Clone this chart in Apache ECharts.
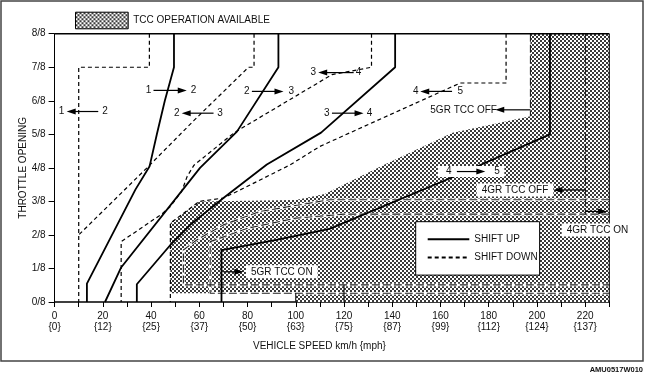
<!DOCTYPE html>
<html><head><meta charset="utf-8">
<script src="https://cdn.jsdelivr.net/npm/echarts@6/dist/echarts.min.js"></script>
<style>html,body{margin:0;padding:0;background:#fff}#c{width:645px;height:381px}</style>
</head><body><div id="c"></div>
<script>
// ---- axis tick labels ----
const kmhLabels = [0,20,40,60,80,100,120,140,160,180,200,220];
const mphLabels = [0,12,25,37,50,63,75,87,99,112,124,137];

// ---- shift lines [km/h, throttle in eighths] ----
const up12 = [[49.5,8],[49.5,7],[45.7,6],[42.4,5],[39.4,4.05],[33.5,3.35],[13.4,0.55],[13.4,0]];
const up23 = [[92.8,8],[92.8,7],[75.6,5.08],[60.3,4.0],[27.5,1.02],[20.9,0]];
const up34 = [[141.2,8],[141.2,7],[110.5,5.05],[88,4.1],[70,3.1],[56.2,2.3],[48,1.7],[34.1,0.53],[34.1,0]];
const up45 = [[205.4,8],[205.4,5],[164,3.69],[114,2.18],[92,1.85],[69.2,1.55],[69.2,0]];

const dn12 = [[39.3,8],[39.3,7],[10,7],[10,0]];
const dn23 = [[82.7,8],[82.7,7],[80.4,7],[57.6,5.4],[39,4.05],[10,2]];
const dn34 = [[131.4,8],[131.4,7],[115,6.78],[74.5,5.05],[57.8,4.08],[55,3.75],[52.7,3.3],[47.9,2.84],[44.4,2.62],[27.6,1.8],[27.6,0]];
const dn45 = [[187.2,8],[187.2,6.53],[168.2,6.53],[110,4.64],[97.7,4.09],[78.3,3.39],[70,3.1],[60,3.0],[48,2.35],[48,0]];

// ---- torque converter clutch lines ----
const tcc5On = [[230,2.62],[120,2.62],[100,2.5],[80,2.2],[64.5,1.8],[64.5,0.26],[230,0.26]];
const tcc4On = [[230,3.05],[114,3.05],[101.8,2.9],[85.2,2.7],[70,2.3],[58.9,1.85],[53.4,1.55],[53.4,0.51],[230,0.51]];
const tcc4Off = [[220.1,8],[220.1,2.62]];
const tcc5Off = [[197.3,8],[197.3,5.54]];
const tccStub5 = [[100,0],[100,0.26]];
const tccStub4 = [[120,0],[120,0.51]];
const tccArea = [[48,0.26],[48,2.35],[60,3.0],[100,3.04],[112,3.22],[136,4.07],[165,5.05],[197.3,5.54],[197.3,8],[230,8],[230,0],[100,0],[100,0.26]];

// ---- plot frame (top and right edges) ----
const frameTop = [[0,8],[230,8]];
const frameRight = [[230,0],[230,8]];

// ---- annotation arrows [from, to] ----
const gearArrows = [
  [[41.0,6.31],[54.8,6.31]],
  [[18.1,5.68],[5.0,5.68]],
  [[65.9,5.63],[52.7,5.63]],
  [[81.8,6.28],[94.9,6.28]],
  [[124.0,6.84],[109.3,6.84]],
  [[115.0,5.63],[128.1,5.63]],
  [[164.8,6.28],[151.6,6.28]]
];
const boxedArrows = [ [[166.8,3.89],[178.6,3.89]] ];
const tccArrows = [
  [[197.3,5.73],[182.7,5.73]],
  [[220.1,3.34],[206.8,3.34]],
  [[220.1,2.70],[229.1,2.70]],
  [[70.0,0.90],[78.3,0.90]]
];
const gearLabels = [
  [38.9,6.31,'1'],[57.6,6.31,'2'],
  [2.9,5.68,'1'],[20.9,5.68,'2'],
  [50.7,5.63,'2'],[68.6,5.63,'3'],
  [79.7,6.28,'2'],[98.1,6.28,'3'],
  [107.3,6.84,'3'],[126.0,6.84,'4'],
  [112.9,5.63,'3'],[130.6,5.63,'4'],
  [149.8,6.28,'4'],[168.2,6.28,'5'],
  [169.6,5.73,'5GR TCC OFF']
];
const boxedLabels = [
  [163.4,3.89,'4'],[183.4,3.89,'5'],
  [190.9,3.34,'4GR TCC OFF'],
  [225.1,2.15,'4GR TCC ON'],
  [94.2,0.90,'5GR TCC ON']
];

const FONT = "'Liberation Sans', Arial, Helvetica, sans-serif";

// dotted fill pattern for the TCC area
const pat = document.createElement('canvas');
pat.width = 4; pat.height = 4;
const g = pat.getContext('2d');
g.fillStyle = '#ffffff'; g.fillRect(0,0,4,4);
g.fillStyle = '#3a3a3a'; g.fillRect(0,0,2,2); g.fillRect(2,2,2,2);
const hatch = { image: pat, repeat: 'repeat' };

function lineS(name, data, kind, z) {
  const st = {
    up:   { color:'#000', width:1.8, type:'solid' },
    down: { color:'#000', width:1.2, type:[4,3] },
    tcc:  { color:'#222', width:1.1, type:[8,3] },
    halo: { color:'#fff', width:2.5, type:'solid' },
    thin: { color:'#000', width:1, type:'solid' },
    frame:{ color:'#000', width:1.5, type:'solid' }
  }[kind];
  return { type:'line', name, data, symbol:'none', clip:false, silent:true, z: z || 3,
    lineStyle:{ color:st.color, width:st.width, type:st.type }, itemStyle:{ color:st.color },
    animation:false };
}

function arrowItem(a, api) {
  const s = api.coord(a[0]), e = api.coord(a[1]);
  const dir = Math.sign(e[0]-s[0]) || 1;
  const L = 9, W = 3;
  return [
    { type:'line', shape:{ x1:s[0], y1:s[1], x2:e[0]-dir*L*0.7, y2:e[1] }, style:{ stroke:'#000', lineWidth:1.2 } },
    { type:'polygon', shape:{ points:[[e[0],e[1]],[e[0]-dir*L,e[1]-W],[e[0]-dir*L,e[1]+W]] }, style:{ fill:'#000' } }
  ];
}
function arrowSeries(name, list, boxed) {
  return { type:'custom', name, silent:true, z:6, animation:false,
    data: list.map(a => [a[0][0], a[0][1]]),
    encode:{ x:0, y:1 },
    renderItem: (p, api) => {
      const a = list[p.dataIndex];
      const kids = arrowItem(a, api);
      if (boxed) {
        const s = api.coord(a[0]), e = api.coord(a[1]);
        const x0 = Math.min(s[0], e[0]) - 19, x1 = Math.max(s[0], e[0]) + 19;
        kids.unshift({ type:'rect', shape:{ x:x0, y:s[1]-5.5, width:x1-x0, height:11 }, style:{ fill:'#fff' } });
      }
      return { type:'group', children:kids };
    } };
}
function labelSeries(name, list, boxed) {
  return { type:'custom', name, silent:true, z:7, animation:false,
    data: list.map(l => [l[0], l[1]]),
    encode:{ x:0, y:1 },
    renderItem: (p, api) => {
      const l = list[p.dataIndex];
      const c = api.coord([l[0], l[1]]);
      const style = { text:l[2], x:c[0], y:c[1], fill:'#111', font:'10px ' + FONT, align:'center', verticalAlign:'middle' };
      if (boxed && l[2].length > 1) { style.backgroundColor = '#fff'; style.padding = [2,5,1,5]; }
      return { type:'text', style };
    } };
}

const series = [
  { type:'custom', name:'TCC OPERATION AVAILABLE', silent:true, z:1, animation:false,
    itemStyle:{ color:hatch },
    data:[[0,0]], encode:{ x:0, y:1 },
    renderItem: (p, api) => ({ type:'polygon', shape:{ points: tccArea.map(d => api.coord(d)) }, style:{ fill:hatch } }) },
  lineS('tcc5OnHalo', tcc5On, 'halo', 2),
  lineS('tcc4OnHalo', tcc4On, 'halo', 2),
  lineS('5GR TCC ON', tcc5On, 'tcc', 2),
  lineS('4GR TCC ON', tcc4On, 'tcc', 2),
  lineS('4GR TCC OFF', tcc4Off, 'tcc', 2),
  lineS('5GR TCC OFF', tcc5Off, 'tcc', 2),
  lineS('stub5', tccStub5, 'thin', 2),
  lineS('stub4', tccStub4, 'thin', 2),
  lineS('SHIFT UP', up12, 'up'),
  lineS('SHIFT UP', up23, 'up'),
  lineS('SHIFT UP', up34, 'up'),
  lineS('SHIFT UP', up45, 'up'),
  lineS('SHIFT DOWN', dn12, 'down'),
  lineS('SHIFT DOWN', dn23, 'down'),
  lineS('SHIFT DOWN', dn34, 'down'),
  lineS('SHIFT DOWN', dn45, 'down'),
  lineS('frameTop', frameTop, 'frame', 4),
  lineS('frameRight', frameRight, 'thin', 4),
  arrowSeries('gearArrows', gearArrows, false),
  arrowSeries('boxedArrows', boxedArrows, true),
  arrowSeries('tccArrows', tccArrows, false),
  labelSeries('gearLabels', gearLabels, false),
  labelSeries('boxedLabels', boxedLabels, true)
];

const chart = echarts.init(document.getElementById('c'), null, { renderer:'canvas' });
chart.setOption({
  animation:false,
  backgroundColor:'#fff',
  textStyle:{ fontFamily:FONT },
  grid:{ left:54.6, right:35.7, top:33.7, bottom:79, outerBoundsMode:'none' },
  xAxis:{ type:'value', min:0, max:230, interval:10,
    axisLine:{ lineStyle:{ color:'#000', width:1.5 } },
    axisTick:{ length:5, lineStyle:{ color:'#000', width:1 } },
    splitLine:{ show:false },
    axisLabel:{ margin:8, color:'#111', fontSize:10, lineHeight:11.5, fontFamily:FONT,
      formatter: v => { const i = kmhLabels.indexOf(v); return i < 0 ? '' : v + '\n{' + mphLabels[i] + '}'; } },
    name:'VEHICLE SPEED km/h {mph}', nameLocation:'middle', nameGap:39, nameMoveOverlap:false,
    nameTextStyle:{ color:'#111', fontSize:10, fontFamily:FONT, padding:[0,25,0,0] } },
  yAxis:{ type:'value', min:0, max:8, interval:1,
    axisLine:{ show:true, lineStyle:{ color:'#000', width:1 } },
    axisTick:{ show:true, length:6, lineStyle:{ color:'#000', width:1 } },
    splitLine:{ show:false },
    axisLabel:{ margin:9, color:'#111', fontSize:10, fontFamily:FONT, formatter: v => v + '/8' },
    name:'THROTTLE OPENING', nameLocation:'middle', nameRotate:90, nameGap:26, nameMoveOverlap:false,
    nameTextStyle:{ color:'#111', fontSize:10, fontFamily:FONT } },
  legend:[
    { data:['SHIFT UP','SHIFT DOWN'], orient:'vertical', left:415.7, top:221.7,
      backgroundColor:'#fff', borderColor:'#000', borderWidth:1, padding:[12,2,12,11],
      itemWidth:41.6, itemHeight:14, itemGap:7, selectedMode:false,
      itemStyle:{ opacity:0 },
      textStyle:{ fontSize:10, color:'#111', fontFamily:FONT } },
    { data:[{ name:'TCC OPERATION AVAILABLE', icon:'rect', itemStyle:{ color:hatch, borderColor:'#000', borderWidth:1, opacity:1 } }],
      left:75, top:11.7, padding:0, itemWidth:52.7, itemHeight:16.6, selectedMode:false,
      textStyle:{ fontSize:10, color:'#111', fontFamily:FONT } }
  ],
  graphic:[
    { type:'rect', shape:{ x:1, y:1, width:642, height:360 }, style:{ fill:null, stroke:'#444', lineWidth:1.5 }, silent:true },
    { type:'text', style:{ text:'AMU0517W010', x:643, y:370, align:'right', verticalAlign:'middle', font:'bold 7.5px ' + FONT, fill:'#111' }, silent:true }
  ],
  series
});
</script>
</body></html>
